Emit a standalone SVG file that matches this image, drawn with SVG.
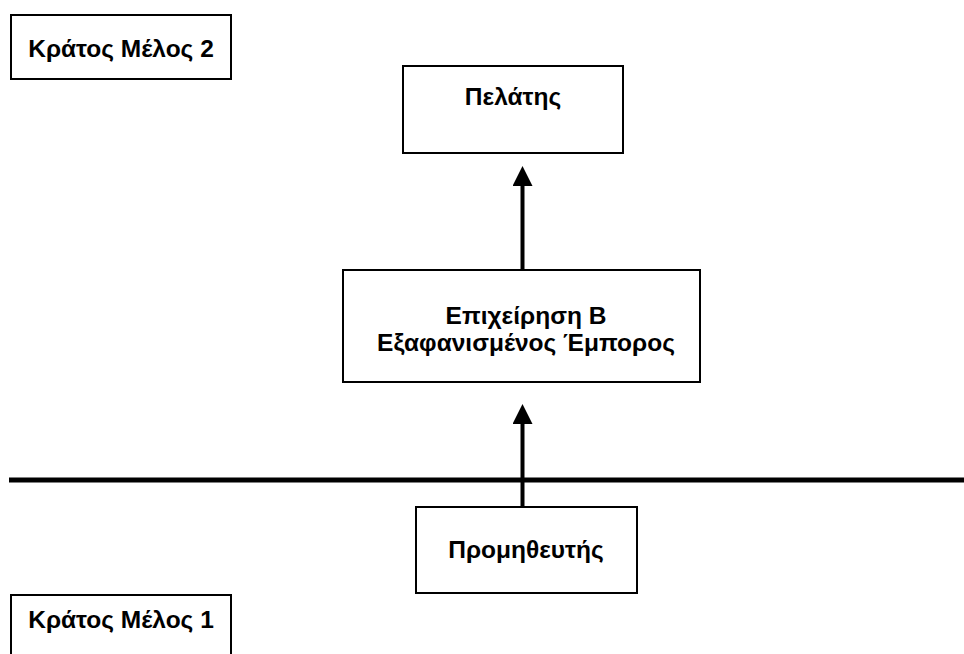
<svg xmlns="http://www.w3.org/2000/svg" width="964" height="654" viewBox="0 0 964 654">
  <style>
    .box { fill: #ffffff; stroke: #000000; stroke-width: 2; }
    .lbl { font-family: "Liberation Sans", Arial, Helvetica, sans-serif; font-weight: bold; font-size: 24.5px; fill: #000000; text-anchor: middle; }
    .conn { stroke: #000000; stroke-width: 4; fill: none; }
    .border { stroke: #000000; stroke-width: 5; fill: none; }
  </style>
  <defs>
    <marker id="arrow" markerWidth="5" markerHeight="5" refX="0" refY="2.5" orient="auto" markerUnits="strokeWidth">
      <path d="M0,0 L5,2.5 L0,5 Z" fill="#000000"/>
    </marker>
  </defs>
  <rect width="964" height="654" fill="#ffffff"/>

  <!-- border between the two member states -->
  <line class="border" x1="9" y1="480" x2="964" y2="480"/>

  <g id="state2">
    <rect class="box" x="11" y="15" width="220" height="64"/>
    <text class="lbl" x="121" y="57">Κράτος Μέλος 2</text>
  </g>

  <g id="state1">
    <rect class="box" x="11" y="595" width="220" height="70"/>
    <text class="lbl" x="121" y="628">Κράτος Μέλος 1</text>
  </g>

  <g id="customer">
    <rect class="box" x="403" y="66" width="220" height="87"/>
    <text class="lbl" x="513" y="105">Πελάτης</text>
  </g>

  <g id="trader">
    <rect class="box" x="343" y="270" width="357" height="112"/>
    <text class="lbl" x="526" y="324">Επιχείρηση Β</text>
    <text class="lbl" x="526" y="351">Εξαφανισμένος Έμπορος</text>
  </g>

  <g id="supplier">
    <rect class="box" x="416" y="507" width="221" height="86"/>
    <text class="lbl" x="526" y="558">Προμηθευτής</text>
  </g>

  <g id="connectors">
    <line class="conn" x1="522.5" y1="270" x2="522.5" y2="186" marker-end="url(#arrow)"/>
    <line class="conn" x1="522.5" y1="507" x2="522.5" y2="424" marker-end="url(#arrow)"/>
  </g>
</svg>
